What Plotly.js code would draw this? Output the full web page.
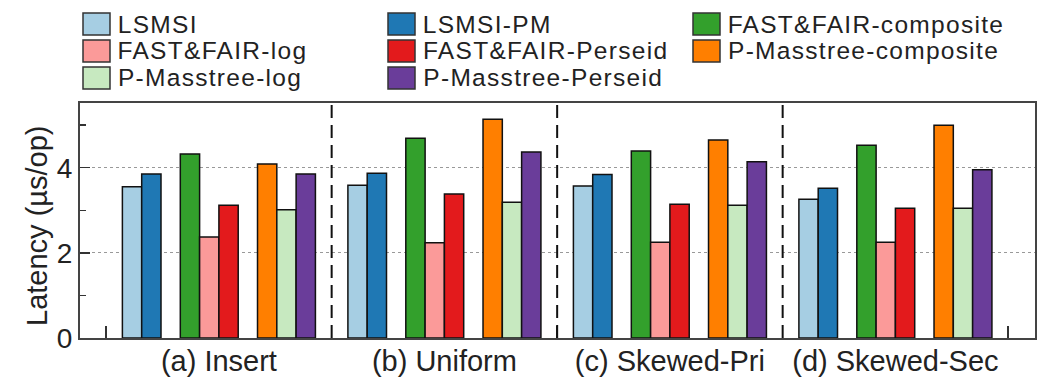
<!DOCTYPE html>
<html>
<head>
<meta charset="utf-8">
<script src="https://cdn.plot.ly/plotly-3.0.1.min.js"></script>
<style>html,body{margin:0;padding:0;background:#fff;}#chart{width:1045px;height:380px;}</style>
</head>
<body>
<div id="chart"></div>
<script>
// ---- data ----
const categories = ['(a) Insert', '(b) Uniform', '(c) Skewed-Pri', '(d) Skewed-Sec'];
const seriesNames = ['LSMSI', 'LSMSI-PM', 'FAST&FAIR-composite', 'FAST&FAIR-log', 'FAST&FAIR-Perseid',
                     'P-Masstree-composite', 'P-Masstree-log', 'P-Masstree-Perseid'];
const LSMSI               = [3.55, 3.59, 3.57, 3.26];
const LSMSI_PM            = [3.85, 3.87, 3.84, 3.52];
const FF_composite        = [4.32, 4.69, 4.39, 4.53];
const FF_log              = [2.37, 2.24, 2.25, 2.25];
const FF_Perseid          = [3.12, 3.38, 3.14, 3.05];
const PM_composite        = [4.09, 5.14, 4.65, 5.00];
const PM_log              = [3.01, 3.19, 3.12, 3.05];
const PM_Perseid          = [3.85, 4.37, 4.14, 3.95];
const seriesValues = [LSMSI, LSMSI_PM, FF_composite, FF_log, FF_Perseid, PM_composite, PM_log, PM_Perseid];
const colors = ['#a6cee3', '#1f78b4', '#33a02c', '#fb9a99', '#e31a1c', '#ff7f00', '#c7e9c0', '#6a3d9a'];
const yTickVals = [0, 2, 4];
const yMinorVals = [1, 3, 5];
const yTitle = 'Latency (µs/op)';
// clusters within each group (a blank slot separates them)
const clusters = [[0, 1], [2, 3, 4], [5, 6, 7]];
// legend: column-major arrangement, 3 rows per column
const legendOrder = ['LSMSI', 'FAST&FAIR-log', 'P-Masstree-log', 'LSMSI-PM', 'FAST&FAIR-Perseid',
                     'P-Masstree-Perseid', 'FAST&FAIR-composite', 'P-Masstree-composite'];

// ---- geometry helpers ----
const W = 1045, H = 380;
const M = {l: 80, r: 10, t: 103, b: 42};
const PW = W - M.l - M.r, PH = H - M.t - M.b;
const px2x = px => (px - M.l) / PW;
const px2y = py => (H - M.b - py) / PH;
const FONT = '"Liberation Sans", Arial, sans-serif';
const LS = 1.3; // legend letter spacing (px)

const traces = [];
clusters.forEach((cl, ci) => {
  if (ci > 0) {
    traces.push({type: 'bar', x: categories, y: categories.map(() => null),
                 showlegend: false, hoverinfo: 'skip', marker: {color: 'rgba(0,0,0,0)'}});
  }
  cl.forEach(si => {
    traces.push({
      type: 'bar', name: seriesNames[si], x: categories, y: seriesValues[si],
      showlegend: false,
      marker: {color: colors[si], line: {color: '#111', width: 1.5}}
    });
  });
});

const shapes = [];
const annotations = [];
// dashed separators between groups
for (let i = 0; i < categories.length - 1; i++) {
  shapes.push({type: 'line', xref: 'x', yref: 'paper', x0: i + 0.5, x1: i + 0.5, y0: 0, y1: 1,
               line: {color: '#111', width: 2, dash: '13px,7px'}, layer: 'above'});
}
// y axis title
annotations.push({xref: 'paper', yref: 'paper', x: px2x(37), y: px2y(226), xanchor: 'center', yanchor: 'middle',
                  textangle: -90, showarrow: false, text: yTitle,
                  font: {family: FONT, size: 29, color: '#222'}});
// legend swatches + labels
legendOrder.forEach((name, k) => {
  const col = Math.floor(k / 3), row = k % 3;
  const si = seriesNames.indexOf(name);
  const x0 = 83 + 305 * col, yc = 24 + 27 * row;
  shapes.push({type: 'rect', xref: 'paper', yref: 'paper',
               x0: px2x(x0), x1: px2x(x0 + 27), y0: px2y(yc + 11), y1: px2y(yc - 11),
               fillcolor: colors[si], line: {color: '#333', width: 1.5}});
  annotations.push({xref: 'paper', yref: 'paper', x: px2x(x0 + 33), y: px2y(yc),
                    xanchor: 'left', yanchor: 'middle', showarrow: false, text: name,
                    xshift: name.length * LS / 2,
                    font: {family: FONT, size: 24.5, color: '#222'}});
});

const layout = {
  width: W, height: H,
  margin: M,
  paper_bgcolor: '#fff', plot_bgcolor: '#fff',
  font: {family: FONT, color: '#222'},
  barmode: 'group', bargap: 0.144, bargroupgap: 0,
  showlegend: false,
  xaxis: {
    type: 'category', range: [-0.616, 3.619], tickson: 'boundaries', tickangle: 0,
    ticks: 'inside', ticklen: 12, tickwidth: 1.5, tickcolor: '#333',
    showgrid: false, zeroline: false,
    showline: true, linecolor: '#444', linewidth: 2, mirror: true,
    ticklabelstandoff: -4,
    tickfont: {family: FONT, size: 29, color: '#222'}
  },
  yaxis: {
    range: [0, 5.52], tickvals: yTickVals, ticks: 'inside', ticklen: 10, tickwidth: 1.5, tickcolor: '#333',
    showgrid: true, gridcolor: '#999', griddash: 'dot', gridwidth: 1,
    zeroline: false, showline: true, linecolor: '#444', linewidth: 2, mirror: true,
    minor: {tickvals: yMinorVals, ticks: 'inside', ticklen: 6, tickcolor: '#333', showgrid: false},
    tickfont: {family: FONT, size: 28, color: '#222'}
  },
  shapes: shapes,
  annotations: annotations
};

Plotly.newPlot('chart', traces, layout, {staticPlot: true, displayModeBar: false}).then(() => {
  document.querySelectorAll('#chart .annotation-text').forEach(t => {
    if (legendOrder.includes(t.textContent)) t.style.letterSpacing = LS + 'px';
  });
});
</script>
</body>
</html>
